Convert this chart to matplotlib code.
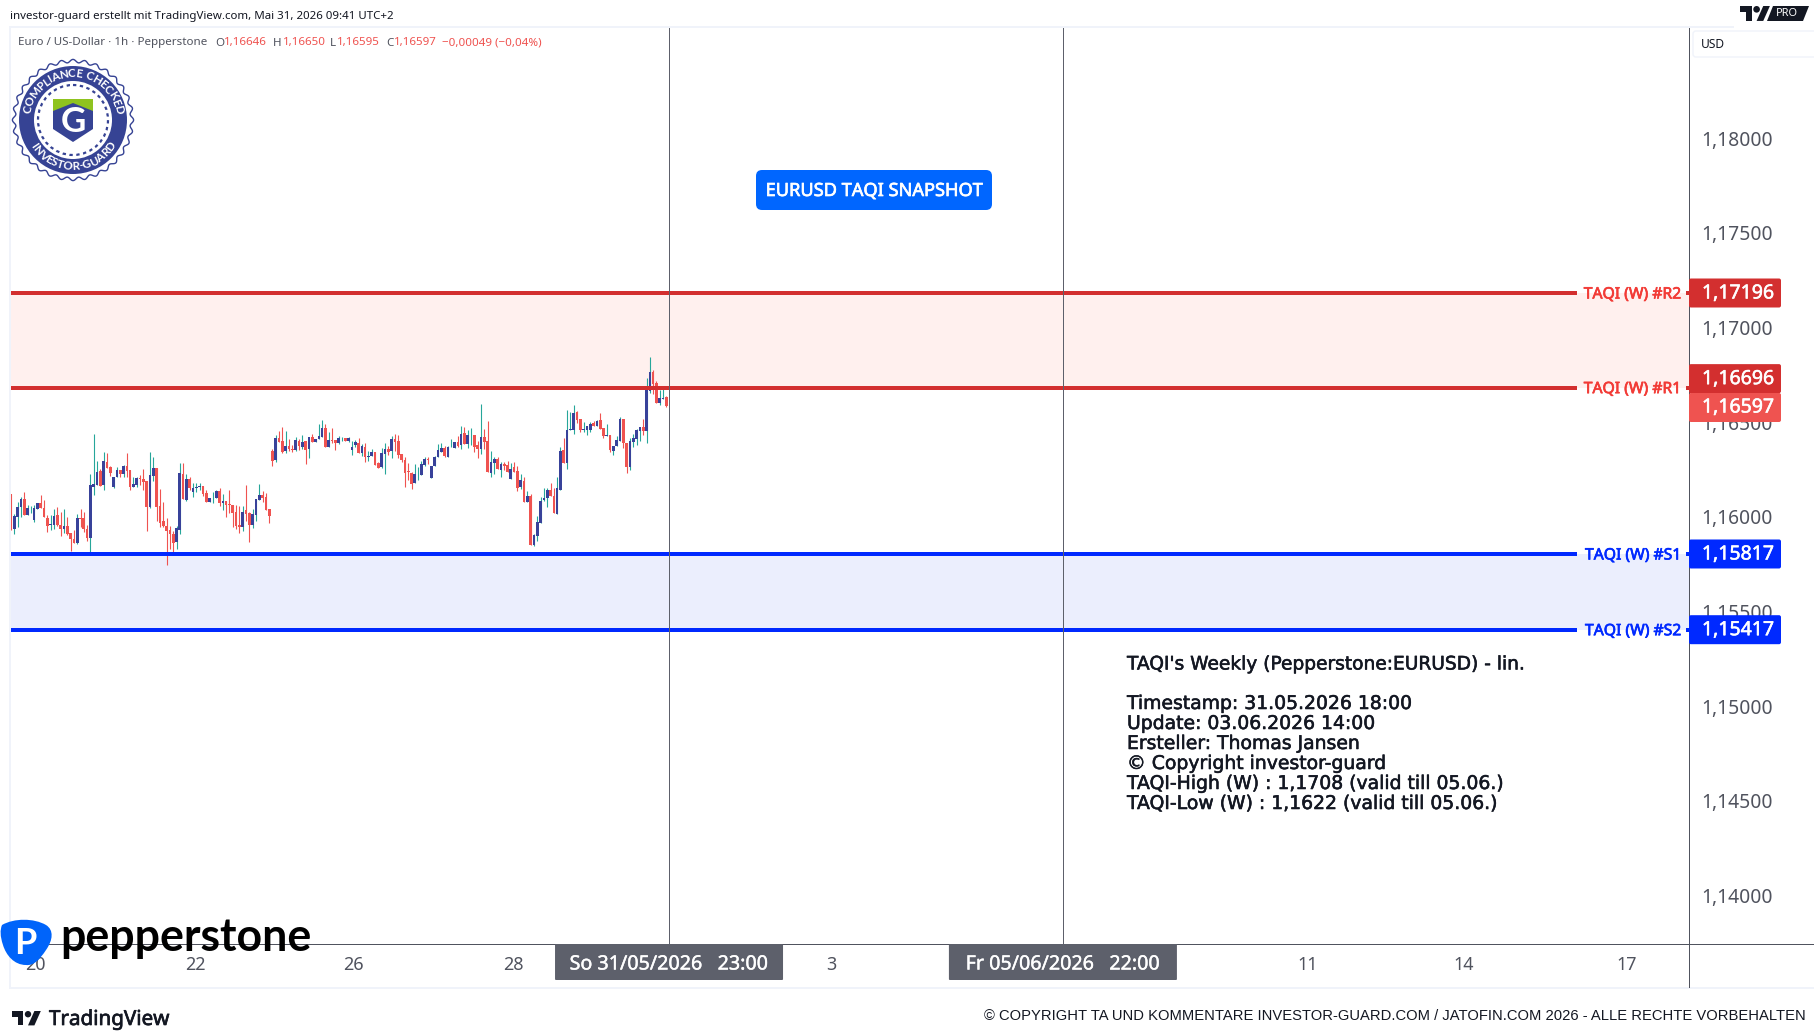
import numpy as np
import matplotlib
matplotlib.use('Agg')
import matplotlib.pyplot as plt
import matplotlib.patheffects as pe
from matplotlib.patches import Circle, FancyBboxPatch, PathPatch, Polygon, Rectangle
from matplotlib.path import Path
from matplotlib.textpath import TextPath
from matplotlib.font_manager import FontProperties

plt.rcParams['font.family'] = ['Noto Sans', 'DejaVu Sans']

# EURUSD 1h, in 1e-5 price points
opens = [
    116133, 115949, 116015, 116066, 116108, 116025, 116058, 115997, 116055, 116087,
    116061, 116008, 115972, 115971, 116024, 115971, 115949, 115965, 115928, 115896,
    115875, 116008, 116008, 115949, 115902, 116172, 116183, 116257, 116183, 116304,
    116278, 116172, 116225, 116262, 116241, 116283, 116262, 116172, 116183, 116220,
    116214, 116204, 116066, 116230, 116273, 116071, 115992, 115965, 115944, 115923,
    115881, 115944, 116241, 116103, 116214, 116145, 116167, 116172, 116177, 116140,
    116092, 116116, 116114, 116151, 116087, 116098, 116082, 116077, 116040, 115971,
    115960, 116050, 116034, 115971, 116024, 116103, 116130, 116119, 116055, 116363,
    116315, 116431, 116416, 116363, 116389, 116373, 116368, 116416, 116384, 116416,
    116373, 116437, 116410, 116426, 116437, 116484, 116384, 116421, 116421, 116405,
    116433, 116431, 116416, 116368, 116394, 116405, 116352, 116384, 116331, 116336,
    116357, 116299, 116278, 116346, 116373, 116363, 116426, 116416, 116347, 116315,
    116257, 116246, 116193, 116238, 116235, 116288, 116320, 116220, 116283, 116331,
    116357, 116378, 116331, 116381, 116378, 116410, 116394, 116458, 116400, 116444,
    116447, 116394, 116373, 116437, 116416, 116246, 116299, 116320, 116262, 116294,
    116288, 116214, 116278, 116257, 116172, 116204, 116092, 116124, 115865, 115912,
    115981, 116103, 116114, 116156, 116124, 116029, 116156, 116368, 116299, 116474,
    116474, 116569, 116532, 116474, 116474, 116474, 116511, 116495, 116527, 116484,
    116442, 116447, 116363, 116389, 116416, 116532, 116405, 116278, 116410, 116426,
    116468, 116490, 116468, 116680, 116781, 116723, 116617, 116638, 116646,
]
highs = [
    116135, 116027, 116092, 116119, 116145, 116077, 116071, 116075, 116087, 116130,
    116103, 116024, 116024, 116055, 116066, 116040, 116055, 116013, 115928, 115944,
    116029, 116055, 116040, 115971, 116241, 116453, 116310, 116267, 116357, 116352,
    116283, 116225, 116278, 116262, 116288, 116352, 116262, 116225, 116225, 116235,
    116267, 116204, 116357, 116331, 116273, 116161, 116092, 116008, 115965, 115939,
    115965, 116299, 116299, 116241, 116225, 116193, 116193, 116193, 116177, 116156,
    116114, 116145, 116156, 116167, 116135, 116098, 116156, 116077, 116077, 116071,
    116071, 116183, 116040, 116055, 116108, 116188, 116151, 116140, 116055, 116373,
    116447, 116468, 116490, 116468, 116426, 116394, 116437, 116426, 116447, 116416,
    116437, 116453, 116426, 116506, 116527, 116506, 116463, 116484, 116421, 116442,
    116437, 116431, 116437, 116416, 116421, 116431, 116400, 116405, 116363, 116373,
    116357, 116304, 116378, 116405, 116389, 116442, 116453, 116447, 116347, 116331,
    116299, 116251, 116294, 116278, 116310, 116331, 116331, 116283, 116336, 116400,
    116405, 116389, 116389, 116426, 116410, 116442, 116495, 116490, 116474, 116484,
    116447, 116416, 116611, 116479, 116521, 116363, 116331, 116331, 116304, 116304,
    116310, 116299, 116304, 116283, 116241, 116225, 116151, 116135, 115923, 116018,
    116119, 116167, 116167, 116193, 116167, 116225, 116384, 116431, 116580, 116569,
    116606, 116574, 116532, 116516, 116495, 116516, 116521, 116527, 116564, 116484,
    116506, 116447, 116389, 116442, 116543, 116532, 116405, 116431, 116453, 116479,
    116490, 116532, 116749, 116860, 116791, 116733, 116686, 116696, 116650,
]
lows = [
    115944, 115925, 115960, 116015, 116025, 116025, 116036, 115988, 116055, 116061,
    116010, 115933, 115946, 115949, 115965, 115912, 115928, 115918, 115833, 115875,
    115870, 115960, 115933, 115886, 115822, 116130, 116183, 116177, 116156, 116273,
    116230, 116167, 116225, 116225, 116225, 116225, 116156, 116172, 116172, 116183,
    116156, 115939, 116061, 116204, 115992, 115960, 115960, 115759, 115843, 115817,
    115843, 115923, 116108, 116098, 116156, 116119, 116145, 116156, 116124, 116092,
    116092, 116087, 116114, 116071, 116050, 116013, 116034, 115960, 115949, 115928,
    115939, 115992, 115881, 115955, 115992, 116103, 116092, 116050, 115981, 116283,
    116304, 116410, 116352, 116352, 116363, 116357, 116363, 116368, 116373, 116294,
    116325, 116410, 116410, 116426, 116437, 116384, 116384, 116405, 116368, 116400,
    116416, 116416, 116410, 116341, 116384, 116352, 116336, 116304, 116310, 116336,
    116288, 116273, 116273, 116241, 116341, 116325, 116363, 116325, 116304, 116172,
    116209, 116161, 116193, 116209, 116235, 116283, 116294, 116220, 116283, 116331,
    116357, 116331, 116331, 116381, 116378, 116384, 116373, 116400, 116378, 116394,
    116357, 116325, 116347, 116373, 116251, 116225, 116241, 116267, 116225, 116262,
    116251, 116214, 116251, 116151, 116161, 116092, 116092, 115865, 115860, 115886,
    115981, 116098, 116066, 116124, 116034, 116029, 116156, 116299, 116267, 116474,
    116453, 116511, 116463, 116463, 116447, 116463, 116495, 116495, 116479, 116431,
    116442, 116357, 116341, 116389, 116416, 116378, 116246, 116262, 116384, 116394,
    116416, 116447, 116405, 116670, 116664, 116617, 116606, 116638, 116595,
]
closes = [
    115949, 116018, 116066, 116108, 116025, 116061, 116061, 116061, 116087, 116061,
    116010, 115965, 115976, 116018, 115971, 115949, 115965, 115923, 115896, 115875,
    116008, 116004, 115949, 115902, 116183, 116188, 116251, 116177, 116310, 116273,
    116246, 116225, 116262, 116241, 116283, 116257, 116172, 116188, 116220, 116214,
    116198, 116066, 116235, 116273, 116066, 115981, 115965, 115939, 115923, 115875,
    115955, 116246, 116108, 116214, 116167, 116167, 116172, 116175, 116135, 116092,
    116114, 116119, 116151, 116087, 116098, 116077, 116078, 116034, 115965, 115960,
    116040, 116029, 115971, 116029, 116108, 116130, 116114, 116050, 116018, 116310,
    116431, 116410, 116357, 116389, 116373, 116368, 116421, 116389, 116410, 116368,
    116437, 116410, 116426, 116442, 116484, 116384, 116421, 116416, 116405, 116431,
    116437, 116416, 116431, 116384, 116410, 116352, 116389, 116331, 116336, 116357,
    116288, 116273, 116352, 116373, 116357, 116426, 116410, 116341, 116315, 116246,
    116251, 116188, 116241, 116241, 116294, 116320, 116316, 116283, 116331, 116368,
    116378, 116336, 116384, 116384, 116410, 116389, 116453, 116400, 116447, 116447,
    116384, 116373, 116437, 116410, 116251, 116304, 116320, 116267, 116294, 116283,
    116251, 116267, 116251, 116167, 116209, 116092, 116124, 115865, 115918, 115987,
    116098, 116114, 116156, 116124, 116034, 116167, 116363, 116299, 116474, 116479,
    116564, 116527, 116474, 116479, 116495, 116506, 116495, 116521, 116479, 116442,
    116447, 116368, 116389, 116421, 116532, 116405, 116278, 116416, 116431, 116474,
    116490, 116468, 116686, 116781, 116717, 116617, 116643, 116643, 116597,
]

# weekly support and resistance levels
level_names = ['#R2', '#R1', '#S1', '#S2']
level_values = [1.17196, 1.16696, 1.15817, 1.15417]
last_price = 1.16597
price_ticks = [1.18, 1.175, 1.17, 1.165, 1.16, 1.155, 1.15, 1.145, 1.14]

# time axis, positions in bars
time_ticks = [7.5, 55.6, 103.6, 151.7, 247.7, 391.8, 439.0, 488.2]
time_labels = ['20', '22', '26', '28', '3', '11', '14', '17']
marker_bars = [198.8, 317.8]
marker_labels = ['So 31/05/2026   23:00', 'Fr 05/06/2026   22:00']

note_lines = [
    "Timestamp: 31.05.2026 18:00",
    "Update: 03.06.2026 14:00",
    "Ersteller: Thomas Jansen",
    "\u00a9 Copyright investor-guard",
    "TAQI-High (W) : 1,1708 (valid till 05.06.)",
    "TAQI-Low (W) : 1,1622 (valid till 05.06.)",
]

WIDTH, HEIGHT = 1814, 1035
RED = '#d32f2f'
BLUE = '#0029ff'
CANDLE_RED = '#ef5350'
CANDLE_BLUE = '#38429a'
WICK_TEAL = '#26a69a'
AXIS_GREY = '#50535e'
FRAME = '#f0f3fa'
NAVY = '#364394'
INK = '#131722'


def px(size):
    # font sizes are thought of in pixels
    return size * 0.72


def heavy(color, width=0.4):
    # thin outline to thicken fonts that only come in regular
    return [pe.withStroke(linewidth=width, foreground=color)]


def priceText(value):
    return f'{value:.5f}'.replace('.', ',')


def drawCandles(ax):
    o = np.array(opens) / 1e5
    h = np.array(highs) / 1e5
    l = np.array(lows) / 1e5
    c = np.array(closes) / 1e5
    x = np.arange(len(o))
    up = c >= o
    ax.vlines(x[up], l[up], h[up], color=WICK_TEAL, lw=0.8, zorder=3)
    ax.vlines(x[~up], l[~up], h[~up], color=CANDLE_RED, lw=0.8, zorder=3)
    bottoms = np.minimum(o, c)
    heights = np.abs(c - o)
    ax.bar(x[up], heights[up], bottom=bottoms[up], width=0.8, color=CANDLE_BLUE, lw=0, zorder=4)
    ax.bar(x[~up], heights[~up], bottom=bottoms[~up], width=0.8, color=CANDLE_RED, lw=0, zorder=4)


def drawLevels(ax):
    ax.axhspan(level_values[1], level_values[0], color='#fff0ee', lw=0, zorder=1)
    ax.axhspan(level_values[3], level_values[2], color='#ebeefd', lw=0, zorder=1)
    for name, value in zip(level_names, level_values):
        color = RED if 'R' in name else BLUE
        end = (1577 - 10) / 1679
        ax.axhline(value, xmin=0, xmax=end, color=color, lw=px(4), solid_capstyle='butt', zorder=5)
        ax.axhline(value, xmin=(1686 - 10) / 1679, xmax=1, color=color, lw=px(4), solid_capstyle='butt', zorder=5)


def roundBox(ov, x0, y0, x1, y1, color, radius=2):
    ov.add_patch(FancyBboxPatch((x0 + radius, y0 + radius), x1 - x0 - 2 * radius, y1 - y0 - 2 * radius,
                                boxstyle=f'round,pad={radius},rounding_size={radius}',
                                fc=color, ec='none'))


def tvIcon(ov, x0, y0, scale, color=INK):
    # TradingView mark on a 36x18 grid
    t_pts = [(0, 0), (14, 0), (14, 18), (7, 18), (7, 7), (0, 7)]
    s_pts = [(28, 0), (36, 0), (28, 18), (20, 18)]
    for pts in (t_pts, s_pts):
        ov.add_patch(Polygon([(x0 + a * scale, y0 + b * scale) for a, b in pts], fc=color, ec='none'))
    ov.add_patch(Circle((x0 + 20 * scale, y0 + 4 * scale), 4 * scale, fc=color, ec='none'))


def arcText(ov, text, cx, cy, r, start, end, size, upper=True):
    # place the letters one by one along a circle
    fp = FontProperties(family='Lato', weight='bold')
    widths = []
    for ch in text:
        if ch == ' ':
            widths.append(0.3)
        else:
            widths.append(TextPath((0, 0), ch, size=1, prop=fp).get_extents().width + 0.12)
    pos = np.cumsum([0] + widths[:-1]) + np.array(widths) / 2
    pos = pos / sum(widths)
    for ch, f in zip(text, pos):
        a = np.radians(start + (end - start) * f)
        x = cx + r * np.cos(a)
        y = cy - r * np.sin(a)
        rot = np.degrees(a) - 90 if upper else np.degrees(a) + 90
        ov.text(x, y, ch, color='white', fontsize=px(size), fontweight='bold', family='Lato', rotation=rot,
                rotation_mode='anchor', ha='center', va='center', zorder=12)


def drawSeal(ov, cx, cy):
    t = np.linspace(0, 2 * np.pi, 720)
    r = 59 + 1.6 * np.cos(t * 32)
    ov.add_patch(Polygon(np.column_stack([cx + r * np.cos(t), cy + r * np.sin(t)]), fc='white', ec=NAVY, lw=1.0, zorder=10))
    ov.add_patch(Circle((cx, cy), 54, fc=NAVY, ec='none', zorder=11))
    ov.add_patch(Circle((cx, cy), 39, fc='white', ec='none', zorder=11))
    ov.add_patch(Circle((cx, cy), 35, fc='none', ec=NAVY, lw=1.6, ls=(0, (1.5, 1.6)), zorder=12))
    arcText(ov, 'COMPLIANCE CHECKED', cx, cy, 46.5, 172, 8, 11.5)
    arcText(ov, 'INVESTOR-GUARD', cx, cy, 46.5, 212, 330, 11.5, upper=False)
    # shield with the green cap
    shield = [(-20, -21), (20, -21), (20, 9), (0, 22), (-20, 9)]
    ov.add_patch(Polygon([(cx + a, cy + b) for a, b in shield], fc=NAVY, ec='none', zorder=13))
    cap = [(-20, -21), (20, -21), (20, -9), (0, -17), (-20, -9)]
    ov.add_patch(Polygon([(cx + a, cy + b) for a, b in cap], fc='#8fc31f', ec='none', zorder=14))
    ov.text(cx, cy + 2, 'G', color='white', fontsize=px(35), fontweight='bold', family='Lato',
            ha='center', va='center', zorder=14)


def drawPepperstone(ov):
    verts = [(2, 925), (14, 918), (34, 918), (46, 925), (54, 930), (53, 940), (46, 950),
             (40, 959), (34, 966), (26, 965), (14, 965), (6, 955), (3, 945), (0, 936), (0, 930), (2, 925)]
    codes = [Path.MOVETO] + [Path.CURVE4] * 15
    ov.add_patch(PathPatch(Path(verts, codes), fc='#0064fa', ec='none', zorder=10))
    ov.text(25, 943, 'P', color='white', fontsize=px(36), fontweight='bold', ha='center', va='center',
            family='Lato', zorder=11)
    ov.text(60, 938, 'pepperstone', color='black', fontsize=px(44.6), fontweight='bold', ha='left', va='center',
            family='Lato', zorder=11)


fig = plt.figure(figsize=(WIDTH / 100, HEIGHT / 100), dpi=100, facecolor='white')

# price panel
left, right, top, bottom = 10, 1689, 28, 944
ax = fig.add_axes([left / WIDTH, 1 - bottom / HEIGHT, (right - left) / WIDTH, (bottom - top) / HEIGHT])
ax.set_xlim((left - 11) / 3.31, (right - 11) / 3.31)
ax.set_ylim(1.17196 - (bottom - 293) / 18926, 1.17196 + (293 - top) / 18926)
for side in ['top', 'left']:
    ax.spines[side].set_visible(False)
for side in ['right', 'bottom']:
    ax.spines[side].set_color(AXIS_GREY)
    ax.spines[side].set_linewidth(px(1))

drawLevels(ax)
drawCandles(ax)
for bar in marker_bars:
    ax.axvline(bar, color='#5d606b', lw=px(1), zorder=5)

ax.yaxis.tick_right()
ax.set_yticks(price_ticks)
ax.set_yticklabels([priceText(v) for v in price_ticks], fontsize=px(19.3), color=AXIS_GREY, va='center')
ax.set_xticks(time_ticks)
ax.set_xticklabels(time_labels, fontsize=px(18), color=AXIS_GREY)
ax.tick_params(axis='both', length=0)
ax.tick_params(axis='y', pad=9)
ax.tick_params(axis='x', pad=9)

# overlay in pixel coordinates for frame, badges, logos and captions
ov = fig.add_axes([0, 0, 1, 1], facecolor='none')
ov.set_xlim(0, WIDTH)
ov.set_ylim(HEIGHT, 0)
ov.axis('off')

ov.add_patch(Rectangle((9, 26), 1725, 2, fc=FRAME, ec='none'))
ov.add_patch(Rectangle((9, 26), 2, 963, fc=FRAME, ec='none'))
ov.add_patch(Rectangle((9, 987), 1805, 2, fc=FRAME, ec='none'))
ov.plot([right, right], [944, 987], color=AXIS_GREY, lw=px(1))
ov.plot([right, WIDTH], [944, 944], color=AXIS_GREY, lw=px(1), zorder=1)


def y_of(p):
    return 293 + (1.17196 - p) * 18926


# price badges, the R1 one sits pushed up by the last price badge
badge_shift = {'#R1': -9}
for value, name in zip(level_values, level_names):
    color = RED if 'R' in name else BLUE
    y = y_of(value)
    label_color = '#f23b36' if 'R' in name else BLUE
    ov.text(1681, y + 1.5, f'TAQI (W) {name}', color=label_color, fontsize=px(15.7), ha='right', va='center',
            path_effects=heavy(label_color, 0.5))
    y += badge_shift.get(name, 0)
    roundBox(ov, right, y - 14.5, 1781, y + 14.5, color)
    ov.text(1738, y + 0.5, priceText(value), color='white', fontsize=px(19.5), ha='center', va='center',
            path_effects=heavy('white', 0.4))
y = 407.5
roundBox(ov, right, y - 14.5, 1781, y + 14.5, CANDLE_RED)
ov.text(1738, y, priceText(last_price), color='white', fontsize=px(19.5), ha='center', va='center',
        path_effects=heavy('white', 0.4))

# date badges on the time axis
for bar, label in zip(marker_bars, marker_labels):
    cx = 11 + 3.31 * bar
    roundBox(ov, cx - 114, 944, cx + 114, 980, '#5d606b', radius=1)
    ov.text(cx, 964.5, label, color='white', fontsize=px(19.7), ha='center', va='center',
            path_effects=heavy('white', 0.3))

# header and legend
ov.text(10, 16.5, 'investor-guard erstellt mit TradingView.com, Mai 31, 2026 09:41 UTC+2', color=INK,
        fontsize=px(11.5), ha='left', va='center')
ov.text(18, 43, 'Euro / US-Dollar \u00b7 1h \u00b7 Pepperstone', color=AXIS_GREY, fontsize=px(11.6), ha='left', va='center')
for x, label in zip([215, 273, 330, 386], 'OHLC'):
    ov.text(x, 43, label, color=AXIS_GREY, fontsize=px(11.6), ha='left', va='center')
legend_values = [opens[-1], highs[-1], lows[-1], closes[-1]]
for x, value in zip([224, 283, 337, 394], legend_values):
    ov.text(x, 43, priceText(value / 1e5), color=CANDLE_RED, fontsize=px(11.6), ha='left', va='center')
ov.text(442, 43, '\u22120,00049 (\u22120,04%)', color=CANDLE_RED, fontsize=px(11.6), ha='left', va='center')

# USD unit box and PRO mark
ov.add_patch(FancyBboxPatch((1696, 34), 140, 20, boxstyle='round,pad=3,rounding_size=3', fc='white', ec=FRAME, lw=1, clip_on=True))
ov.text(1701, 45, 'USD', color=INK, fontsize=px(12), ha='left', va='center')
tvIcon(ov, 1740, 6, 0.83)
ov.add_patch(Polygon([(1773, 6), (1809, 6), (1803, 21), (1767, 21)], fc=INK, ec='none'))
ov.text(1787, 13.5, 'PRO', color='white', fontsize=px(11), fontweight='bold', ha='center', va='center')

drawSeal(ov, 73, 120)

# snapshot button
roundBox(ov, 756, 170, 992, 210, '#0066ff', radius=6)
ov.text(874, 191, 'EURUSD TAQI SNAPSHOT', color='white', fontsize=px(18.2), ha='center', va='center',
        path_effects=heavy('white', 0.5))

# analysis notes
note_font = ['DejaVu Sans']
ov.text(1127, 664, "TAQI's Weekly (Pepperstone:EURUSD) - lin.", color=INK, fontsize=px(18.6), family=note_font,
        ha='left', va='center', path_effects=heavy(INK, 0.4))
for i, line in enumerate(note_lines):
    ov.text(1127, 703.5 + 20 * i, line, color=INK, fontsize=px(18.8), family=note_font, ha='left', va='center',
            path_effects=heavy(INK, 0.4))

drawPepperstone(ov)

# footer
tvIcon(ov, 12, 1011, 0.8)
ov.text(49, 1020, 'TradingView', color=INK, fontsize=px(20.6), ha='left', va='center', path_effects=heavy(INK, 0.5))
ov.text(1806, 1016, '\u00a9 COPYRIGHT TA UND KOMMENTARE INVESTOR-GUARD.COM / JATOFIN.COM 2026 - ALLE RECHTE VORBEHALTEN',
        color=INK, fontsize=px(14.8), family='Liberation Sans', ha='right', va='center')

fig.savefig('out.png', dpi=100)
